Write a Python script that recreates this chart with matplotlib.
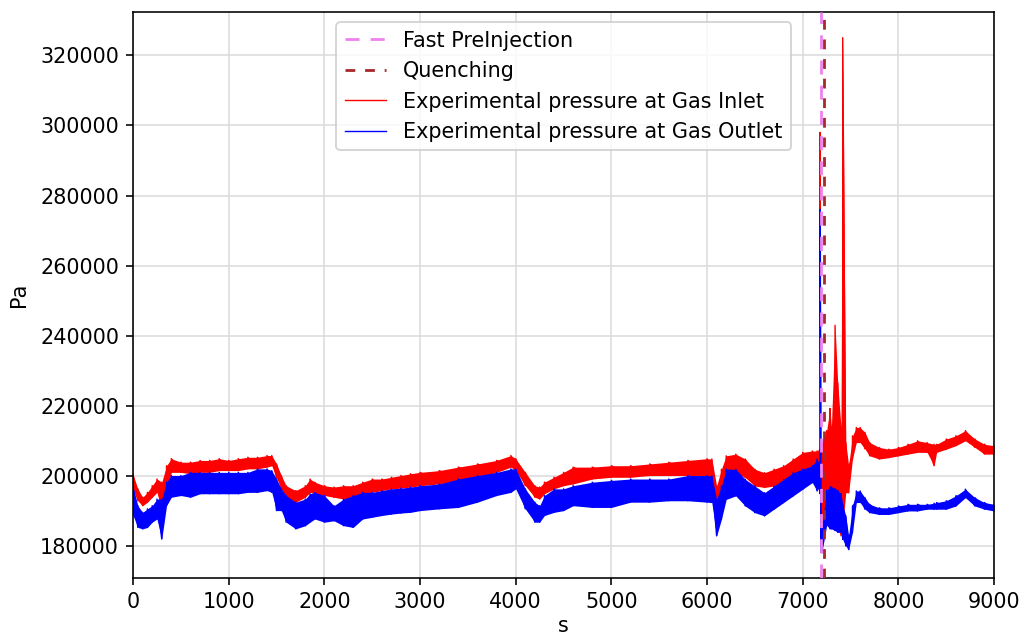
import matplotlib
matplotlib.use('Agg')
import matplotlib.pyplot as plt
import numpy as np

plt.rcParams['font.size'] = 10.4

# event times (s)
t_fast_preinjection = 7189
t_quenching = 7223

# time axis of the read-off envelope (s)
t = [0, 50, 100, 150, 200, 250, 300, 350, 400, 500, 600, 700, 800, 900, 1000,
     1100, 1200, 1300, 1400, 1450, 1500, 1550, 1600, 1700, 1800, 1850, 1900,
     2000, 2100, 2200, 2300, 2400, 2500, 2600, 2700, 2800, 2900, 3000, 3200,
     3400, 3600, 3800, 3950, 4000, 4100, 4200, 4250, 4300, 4400, 4500, 4600,
     4800, 5000, 5200, 5400, 5600, 5800, 6000, 6050, 6100, 6150, 6200, 6300,
     6400, 6500, 6600, 6700, 6800, 6900, 7000, 7100, 7150, 7175, 7182, 7190,
     7200, 7250, 7285, 7300, 7338, 7366, 7400, 7418, 7450, 7480, 7520, 7560,
     7600, 7650, 7700, 7800, 7900, 8000, 8100, 8200, 8300, 8373, 8400, 8500,
     8600, 8700, 8800, 8900, 9000]

# gas inlet pressure, lower / upper edge of the noisy signal (Pa)
inlet_lo = [196000, 193000, 191600, 192600, 194000, 195400, 190200, 195400, 201100, 201100,
            200700, 201100, 201100, 201600, 201600, 201600, 202100, 202100, 202600, 203000,
            199500, 196400, 193500, 192600, 194000, 195400, 195000, 194500, 194000, 193500,
            194000, 195000, 195400, 195900, 196400, 196600, 196900, 197300, 197800, 198800,
            199700, 201100, 202600, 201600, 197300, 194000, 193500, 195000, 196400, 197300,
            197800, 199200, 199700, 199700, 200200, 200200, 200200, 200200, 198200, 190600,
            194400, 201000, 201000, 199600, 197200, 196800, 197200, 198200, 199600, 201000,
            202000, 203000, 202500, 200000, 186000, 186800, 190000, 187000, 186000, 188000,
            185000, 183000, 186000, 195300, 195300, 204900, 209600, 209600, 207800, 205800,
            204900, 205300, 205800, 206300, 206800, 206800, 203000, 206800, 207700, 208700,
            210100, 208200, 206300, 206300]
inlet_hi = [200500, 196400, 194000, 195400, 197300, 199200, 198300, 203000, 205000, 204000,
            204000, 204500, 204500, 205000, 204500, 205000, 205400, 205400, 205900, 205900,
            203500, 200200, 197300, 195900, 197300, 199200, 198300, 197300, 196900, 197300,
            197300, 198300, 199200, 199200, 199700, 200200, 200700, 201100, 201600, 202600,
            203500, 204500, 205900, 205000, 201100, 197300, 196900, 198300, 199700, 201100,
            202600, 202600, 203000, 203000, 203500, 204000, 204500, 205000, 204900, 197200,
            202000, 205800, 206300, 204900, 202000, 201000, 202000, 203000, 204900, 206800,
            207200, 207200, 207500, 298000, 205000, 209600, 213000, 219300, 214000, 243000,
            226600, 214000, 325000, 209600, 203000, 211500, 213900, 213900, 212500, 209600,
            208200, 207700, 208200, 209100, 210100, 209600, 209100, 209100, 210600, 211500,
            213000, 210600, 209100, 208700]

# gas outlet pressure, lower / upper edge (Pa)
outlet_lo = [188800, 185400, 185000, 185400, 186900, 187800, 182100, 191600, 194000, 194500,
             194000, 195000, 195000, 195000, 195000, 195000, 195400, 195400, 195900, 195400,
             190200, 190200, 186900, 185000, 185900, 186900, 187800, 186900, 187300, 185900,
             185400, 187800, 188300, 188800, 189200, 189500, 189700, 190200, 190700, 191100,
             192600, 194500, 195400, 196400, 190700, 186900, 186900, 188800, 189700, 190200,
             191600, 191100, 191100, 192600, 192600, 193000, 193000, 192600, 192500, 183000,
             187700, 193400, 194400, 191500, 189600, 188700, 190600, 192500, 194400, 196300,
             198200, 195800, 197000, 195000, 178300, 178200, 186000, 185000, 185000, 184500,
             184000, 184000, 182000, 180100, 179100, 184000, 192500, 192500, 190600, 189600,
             189100, 189100, 189600, 190100, 190100, 190600, 190600, 190600, 190600, 191500,
             193900, 191500, 190600, 190100]
outlet_hi = [197000, 191600, 189700, 190700, 191600, 193500, 193500, 198300, 200200, 200200,
             201100, 201100, 201100, 201100, 201100, 201100, 201100, 202100, 202100, 201600,
             199200, 196400, 194500, 192600, 193500, 195000, 195400, 194500, 191600, 193500,
             194500, 195400, 195400, 195900, 196400, 196600, 196900, 197300, 197800, 199200,
             200200, 201100, 202100, 202100, 196400, 192600, 191600, 194500, 196400, 196400,
             197300, 198300, 198800, 199200, 199200, 199200, 200200, 200200, 200100, 193400,
             197200, 202000, 202000, 199100, 197200, 195300, 197200, 199100, 201000, 202000,
             203000, 204900, 203500, 276000, 190000, 185800, 196000, 197000, 197000, 196500,
             196000, 195000, 192000, 188700, 183000, 191500, 195800, 195800, 193900, 192000,
             191000, 191000, 191500, 192000, 192000, 192000, 192300, 192500, 193000, 194400,
             196300, 193900, 192500, 192000]

xticks = [0, 1000, 2000, 3000, 4000, 5000, 6000, 7000, 8000, 9000]
yticks = [180000, 200000, 220000, 240000, 260000, 280000, 300000, 320000]


def trace(lo, hi):
    # vertical stroke lo->hi at every read-off time
    x = np.repeat(t, 2)
    y = np.column_stack([lo, hi]).ravel()
    return x, y


fig = plt.figure(figsize=(1025 / 144, 639 / 144), dpi=144)
ax = fig.add_axes([0.1298, 0.0955, 0.8400, 0.8857])

ax.axvline(t_fast_preinjection, color='violet', ls=(0, (5, 4)), lw=1.4,
           label='Fast PreInjection', zorder=4)
ax.axvline(t_quenching, color='brown', ls=(0, (3.5, 3.5)), lw=1.4,
           label='Quenching', zorder=4)

ax.fill_between(t, inlet_lo, inlet_hi, color='red', lw=0, zorder=2)
x, y = trace(inlet_lo, inlet_hi)
ax.plot(x, y, color='red', lw=0.7, label='Experimental pressure at Gas Inlet', zorder=2)

ax.fill_between(t, outlet_lo, outlet_hi, color='blue', lw=0, zorder=2)
x, y = trace(outlet_lo, outlet_hi)
ax.plot(x, y, color='blue', lw=0.7, label='Experimental pressure at Gas Outlet', zorder=2)

ax.set_xlim(0, 9000)
ax.set_ylim(171000, 332300)
ax.set_xticks(xticks)
ax.set_yticks(yticks)
ax.grid(True, color='#dcdcdc', zorder=0)
ax.set_axisbelow(True)
ax.set_xlabel('s', labelpad=2)
ax.set_ylabel('Pa')
ax.yaxis.set_label_coords(-0.121, 0.5)
ax.legend(loc='upper center')

fig.savefig('out.png', dpi=144)
